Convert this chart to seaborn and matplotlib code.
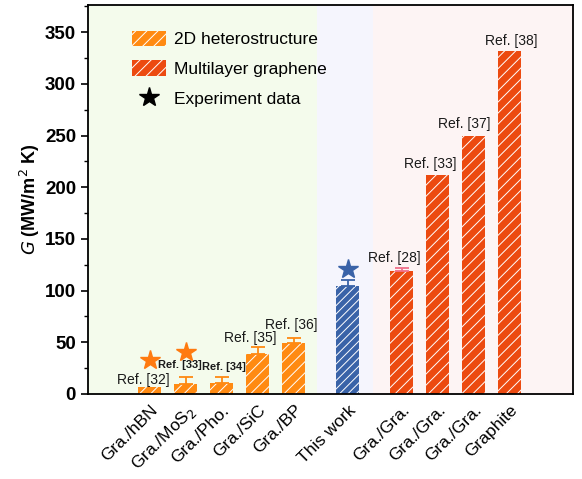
import matplotlib
matplotlib.use("Agg")
import matplotlib.pyplot as plt
from matplotlib.patches import Patch
from matplotlib.lines import Line2D
from matplotlib.ticker import MultipleLocator
import seaborn as sns
import pandas as pd

# Interfacial thermal conductance data
labels = ["Gra./hBN", "Gra./MoS$_2$", "Gra./Pho.", "Gra./SiC", "Gra./BP",
          "This work", "Gra./Gra.", "Gra./Gra.", "Gra./Gra.", "Graphite"]
positions = [0, 1, 2, 3, 4, 5.5, 7, 8, 9, 10]
groups = ["2D", "2D", "2D", "2D", "2D", "This", "ML", "ML", "ML", "ML"]
values = [7, 10, 11, 39, 49, 104.5, 119, 212, 249.5, 332]
errors = [0, 6, 5.5, 6, 5, 5.5, 3, 0, 0, 0]
refs = ["Ref. [32]", "Ref. [33]", "Ref. [34]", "Ref. [35]", "Ref. [36]",
        "", "Ref. [28]", "Ref. [33]", "Ref. [37]", "Ref. [38]"]
star_pos = [0, 1, 5.5]
star_vals = [33, 40.5, 121]

colors = {"2D": "#ff8a12", "This": "#3a63a8", "ML": "#ec4a10"}
hatches = {"2D": "///", "This": "////", "ML": "///"}
err_colors = {"2D": "#ff8a12", "This": "#3a63a8", "ML": "#f0708a"}
star_colors = ["#ff7a10", "#ff7a10", "#3a63a8"]

df = pd.DataFrame({"pos": positions, "G": values, "group": groups})

sns.set_style("ticks")
plt.rcParams["font.family"] = ["Liberation Sans", "DejaVu Sans"]
plt.rcParams["hatch.color"] = "white"
plt.rcParams["hatch.linewidth"] = 0.7
plt.rcParams["text.color"] = "black"
plt.rcParams["axes.labelcolor"] = "black"
plt.rcParams["xtick.color"] = "black"
plt.rcParams["ytick.color"] = "black"

fig = plt.figure(figsize=(5.82, 4.79), dpi=100)
ax = fig.add_axes([0.151, 0.1775, 0.8335, 0.8115])

sns.barplot(data=df, x="pos", y="G", hue="group", palette=colors,
            native_scale=True, dodge=False, width=0.64, errorbar=None,
            saturation=1, legend=False, ax=ax, zorder=2)
group_at = dict(zip(positions, groups))
for cont in ax.containers:
    for p in cont:
        cx = p.get_x() + p.get_width() / 2
        g = min(group_at.items(), key=lambda kv: abs(kv[0] - cx))[1]
        p.set_hatch(hatches[g])
        p.set_edgecolor("white")
        p.set_linewidth(0)

# shaded background regions
ax.axvspan(-2, 4.65, facecolor="#f4fbec", zorder=0, lw=0)
ax.axvspan(4.65, 6.2, facecolor="#f5f5fd", zorder=0, lw=0)
ax.axvspan(6.2, 12, facecolor="#fdf4f4", zorder=0, lw=0)

for x, v, e, g in zip(positions, values, errors, groups):
    if e > 0:
        ax.errorbar(x, v, yerr=[[0], [e]], fmt="none", ecolor=err_colors[g],
                    elinewidth=1.3, capsize=5, capthick=1.3, zorder=3)

for x, v, c in zip(star_pos, star_vals, star_colors):
    ax.plot(x, v, marker="*", ms=15, color=c, mec=c, ls="none", zorder=4)

# reference annotations
ref_xy = {0: (-0.17, 14), 3: (2.78, 54), 4: (3.94, 67), 6: (6.78, 131.5),
          7: (7.78, 222), 8: (8.72, 261), 9: (10.03, 341)}
for i, r in enumerate(refs):
    if i in ref_xy:
        tx, ty = ref_xy[i]
        ax.text(tx, ty, r, ha="center", va="center", fontsize=10, color="#1a1a1a")
ax.text(0.83, 28, refs[1], ha="center", va="center", fontsize=8,
        fontweight="bold", color="#1a1a1a")
ax.text(2.05, 26, refs[2], ha="center", va="center", fontsize=8,
        fontweight="bold", color="#1a1a1a")

ax.set_xlim(-1.72, 11.75)
ax.set_ylim(0, 376)
ax.yaxis.set_major_locator(MultipleLocator(50))
ax.yaxis.set_minor_locator(MultipleLocator(25))
ax.set_xticks(positions)
ax.set_xticklabels(labels, rotation=45, ha="right", rotation_mode="anchor",
                   fontsize=12.5)
ax.tick_params(axis="x", length=0, pad=6)
ax.tick_params(axis="y", which="major", length=5, width=1.2, labelsize=13.5)
ax.tick_params(axis="y", which="minor", length=3, width=1.0)
for t in ax.get_yticklabels():
    t.set_fontweight("bold")
ax.set_xlabel("")
ax.set_ylabel("$\\mathbf{\\it{G}}$ (MW/m$^2$ K)", fontsize=13, fontweight="bold",
              labelpad=2)
for s in ax.spines.values():
    s.set_linewidth(1.3)
    s.set_color("black")

handles = [
    Patch(facecolor=colors["2D"], edgecolor="white", hatch=hatches["2D"], lw=0,
          label="2D heterostructure"),
    Patch(facecolor=colors["ML"], edgecolor="white", hatch=hatches["ML"], lw=0,
          label="Multilayer graphene"),
    Line2D([], [], marker="*", color="black", ls="none", ms=15,
           label="Experiment data"),
]
ax.legend(handles=handles, loc="upper left", bbox_to_anchor=(0.058, 0.975),
          frameon=False, fontsize=12.5, handlelength=2.0, handleheight=1.0,
          handletextpad=0.45, labelspacing=0.75)

fig.savefig("out.png", dpi=100)
